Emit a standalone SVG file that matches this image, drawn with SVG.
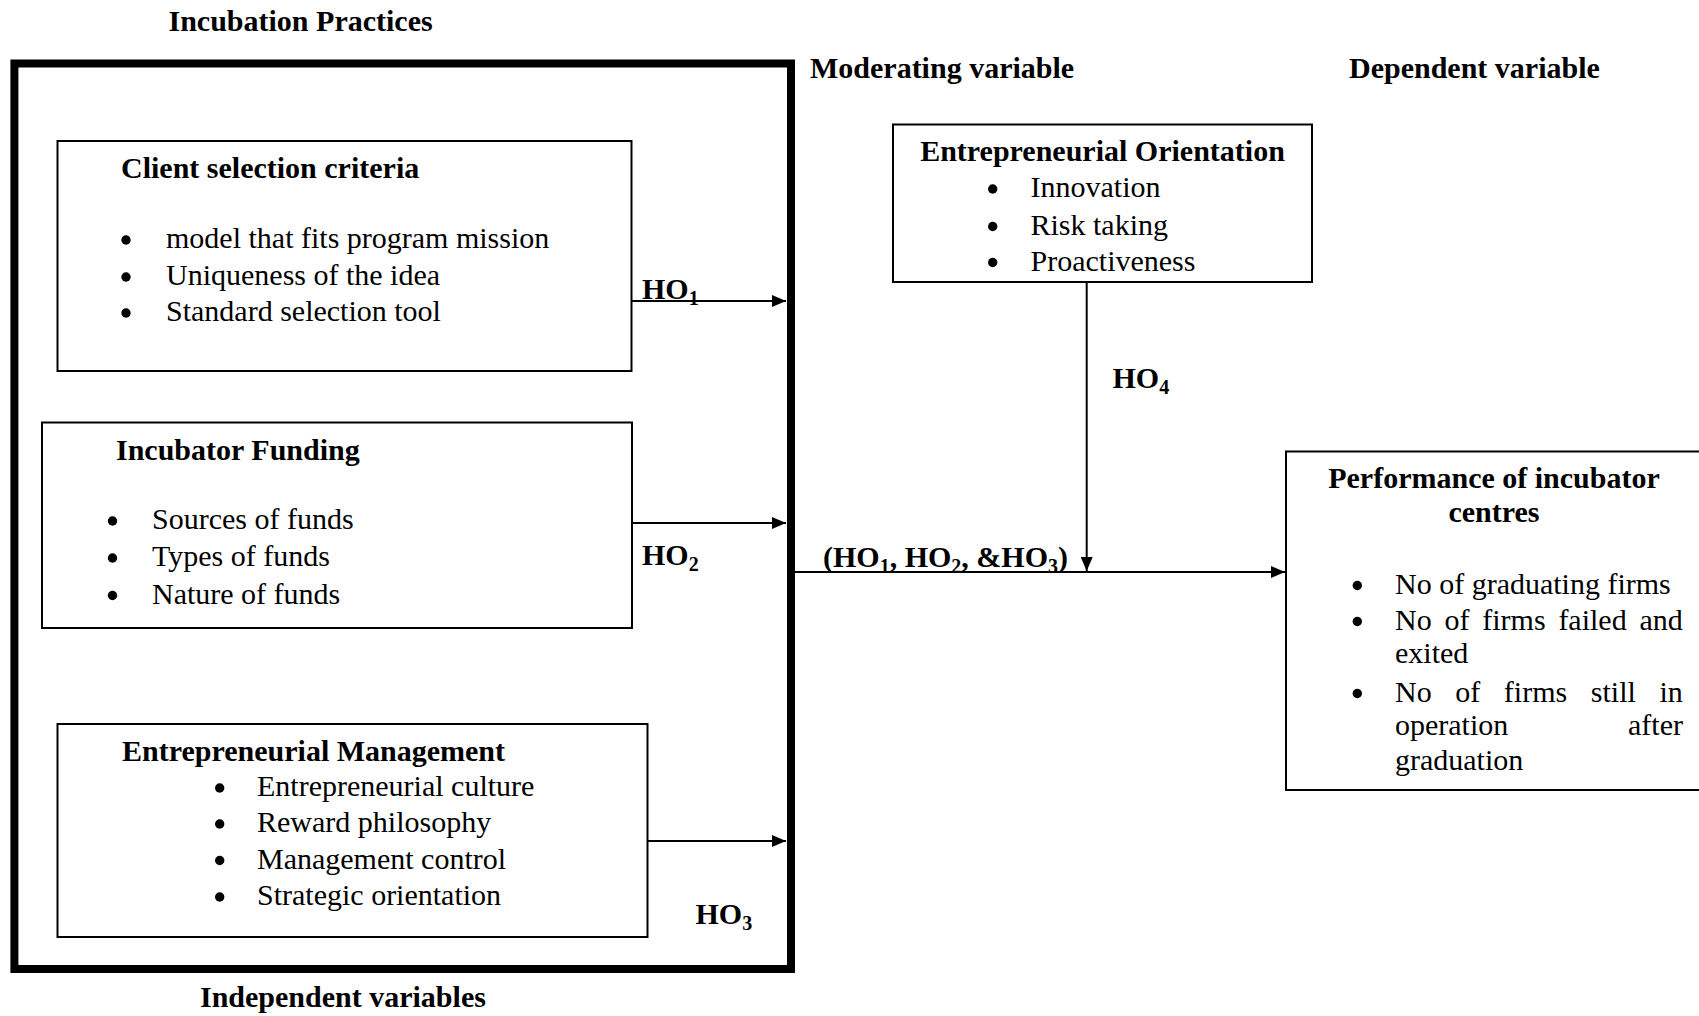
<svg xmlns="http://www.w3.org/2000/svg" width="1699" height="1016" viewBox="0 0 1699 1016">
<style>
text{font-family:"Liberation Serif","Times New Roman",serif;font-size:30px;fill:#000}
.b{font-weight:bold}
.sub{font-size:20px}
.box{fill:#fff;stroke:#000;stroke-width:2}
.outer{fill:none;stroke:#000;stroke-width:8}
.ln{stroke:#000;stroke-width:2;fill:none}
.dot{fill:#000}
</style>
<defs>
<marker id="ah" markerUnits="userSpaceOnUse" markerWidth="14" markerHeight="12" refX="14" refY="6" orient="auto">
<path d="M0,0 L14,6 L0,12 z" fill="#000"/>
</marker>
</defs>
<rect width="1699" height="1016" fill="#fff"/>

<g id="headings">
<text class="b" x="168.5" y="31">Incubation Practices</text>
<text class="b" x="810" y="77.5">Moderating variable</text>
<text class="b" x="1349" y="77.5">Dependent variable</text>
<text class="b" x="200" y="1007">Independent variables</text>
</g>

<g id="incubation-practices">
<rect class="outer" x="14.4" y="63.5" width="776.6" height="905.5"/>
</g>

<g id="client-selection">
<rect class="box" x="57.5" y="141" width="574" height="230"/>
<text class="b" x="121" y="178">Client selection criteria</text>
<circle class="dot" cx="126" cy="240" r="4.7"/>
<circle class="dot" cx="126" cy="277" r="4.7"/>
<circle class="dot" cx="126" cy="313" r="4.7"/>
<text x="166" y="248">model that fits program mission</text>
<text x="166" y="285">Uniqueness of the idea</text>
<text x="166" y="321">Standard selection tool</text>
</g>

<g id="incubator-funding">
<rect class="box" x="42" y="422.5" width="590" height="205.5"/>
<text class="b" x="116" y="460">Incubator Funding</text>
<circle class="dot" cx="112.5" cy="521" r="4.7"/>
<circle class="dot" cx="112.5" cy="558" r="4.7"/>
<circle class="dot" cx="112.5" cy="595.5" r="4.7"/>
<text x="152" y="529">Sources of funds</text>
<text x="152" y="566">Types of funds</text>
<text x="152" y="603.5">Nature of funds</text>
</g>

<g id="entrepreneurial-management">
<rect class="box" x="57.5" y="724" width="590" height="213"/>
<text class="b" x="122" y="761">Entrepreneurial Management</text>
<circle class="dot" cx="219.7" cy="788" r="4.7"/>
<circle class="dot" cx="219.7" cy="824" r="4.7"/>
<circle class="dot" cx="219.7" cy="860.5" r="4.7"/>
<circle class="dot" cx="219.7" cy="897" r="4.7"/>
<text x="257" y="796">Entrepreneurial culture</text>
<text x="257" y="832">Reward philosophy</text>
<text x="257" y="868.5">Management control</text>
<text x="257" y="905">Strategic orientation</text>
</g>

<g id="entrepreneurial-orientation">
<rect class="box" x="893" y="124.5" width="419" height="157.5"/>
<text class="b" x="1102.5" y="161" text-anchor="middle">Entrepreneurial Orientation</text>
<circle class="dot" cx="992.7" cy="189" r="4.7"/>
<circle class="dot" cx="992.7" cy="226.5" r="4.7"/>
<circle class="dot" cx="992.7" cy="262.5" r="4.7"/>
<text x="1030.5" y="197">Innovation</text>
<text x="1030.5" y="234.5">Risk taking</text>
<text x="1030.5" y="270.5">Proactiveness</text>
</g>

<g id="performance">
<rect class="box" x="1286" y="451.5" width="420" height="338.5"/>
<text class="b" x="1494" y="488" text-anchor="middle">Performance of incubator</text>
<text class="b" x="1494" y="521.5" text-anchor="middle">centres</text>
<circle class="dot" cx="1357.3" cy="585.5" r="4.7"/>
<circle class="dot" cx="1357.3" cy="621.5" r="4.7"/>
<circle class="dot" cx="1357.3" cy="693.5" r="4.7"/>
<text x="1395" y="593.5">No of graduating firms</text>
<text x="1395" y="629.5" word-spacing="5.3">No of firms failed and</text>
<text x="1395" y="663">exited</text>
<text x="1395" y="701.5" word-spacing="16.1">No of firms still in</text>
<text x="1395" y="735">operation</text>
<text x="1683" y="735" text-anchor="end">after</text>
<text x="1395" y="770">graduation</text>
</g>

<g id="connectors">
<line class="ln" x1="632" y1="301" x2="786" y2="301" marker-end="url(#ah)"/>
<line class="ln" x1="632" y1="523" x2="786" y2="523" marker-end="url(#ah)"/>
<line class="ln" x1="647.5" y1="841" x2="786" y2="841" marker-end="url(#ah)"/>
<line class="ln" x1="795" y1="572" x2="1285" y2="572" marker-end="url(#ah)"/>
<line class="ln" x1="1086.7" y1="282" x2="1086.7" y2="571" marker-end="url(#ah)"/>
<text class="b" x="642" y="298.5">HO<tspan class="sub" dy="6">1</tspan></text>
<text class="b" x="642" y="565">HO<tspan class="sub" dy="6">2</tspan></text>
<text class="b" x="695.5" y="924">HO<tspan class="sub" dy="6">3</tspan></text>
<text class="b" x="1112.5" y="388">HO<tspan class="sub" dy="6">4</tspan></text>
<text class="b" x="823" y="567">(HO<tspan class="sub" dy="6">1</tspan><tspan dy="-6">, HO</tspan><tspan class="sub" dy="6">2</tspan><tspan dy="-6">, &amp;HO</tspan><tspan class="sub" dy="6">3</tspan><tspan dy="-6">)</tspan></text>
</g>
</svg>
